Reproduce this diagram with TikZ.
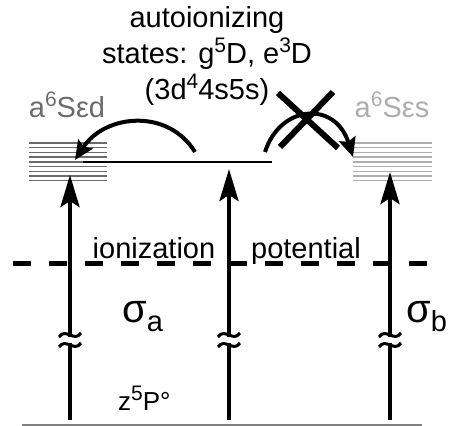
\documentclass[tikz,border=0pt]{standalone}
\usepackage{fontspec}
\setmainfont{Liberation Sans}
\usetikzlibrary{arrows.meta}

\definecolor{darkgrey}{gray}{0.42}
\definecolor{lightgrey}{gray}{0.68}
\newcommand{\sups}[1]{\raisebox{0.36em}{\fontsize{21}{21}\selectfont #1}}
\newcommand{\subs}[1]{\raisebox{-9pt}{\fontsize{29}{29}\selectfont #1}}

\tikzset{
    txt/.style={font=\fontsize{29}{36}\selectfont, inner sep=0pt, align=center},
    bigtxt/.style={font=\fontsize{40}{40}\selectfont, inner sep=0pt},
    uparrow/.style={line width=4pt, -{Stealth[length=32pt, width=19pt, inset=6pt]}},
    curlarrow/.style={line width=4pt, -{Stealth[length=19pt, width=17pt, inset=3pt]}},
}

\begin{document}
\begin{tikzpicture}[x=1pt, y=-1pt]
        \useasboundingbox (0,0) rectangle (451,426);

        % --- 1. Ground level and ionization potential ---
        \draw[gray, line width=1.5pt] (22,425) -- (422,425);
        \draw[line width=5pt, dash pattern=on 18pt off 18pt] (13,263) -- (427,263);
        \node[txt, anchor=base] (ionization) at (154,258) {ionization};
        \node[txt, anchor=base] (potential) at (306,258) {potential};

        % --- 2. Continua (grey bands) ---
        \foreach \i in {0,...,8} {
            \draw[darkgrey, line width=1.4pt] (29,{143+4.7*\i}) -- (107,{143+4.7*\i});
            \draw[lightgrey, line width=1.4pt] (353,{143+4.7*\i}) -- (432,{143+4.7*\i});
        }
        \node[txt, darkgrey, anchor=base] (sed) at (67,117) {a\sups{6}Sεd};
        \node[txt, lightgrey, anchor=base] (ses) at (392,117) {a\sups{6}Sεs};

        % Autoionizing level
        \coordinate (auto west) at (83,162);
        \coordinate (auto east) at (272,162);
        \draw[line width=1.6pt] (auto west) -- (auto east);
        \node[txt, anchor=north] (autostates) at (207,6) {autoionizing\\states: g\sups{5}D, e\sups{3}D\\(3d\sups{4}4s5s)};

        % --- 3. Excitation arrows ---
        \coordinate (a bottom) at (70,420);   \coordinate (a top) at (70,175);
        \coordinate (m bottom) at (229,420);  \coordinate (m top) at (229,169);
        \coordinate (b bottom) at (390,420);  \coordinate (b top) at (390,172);
        \draw[uparrow] (a bottom) -- (a top);
        \draw[uparrow] (m bottom) -- (m top);
        \draw[uparrow] (b bottom) -- (b top);

        % axis breaks
        \foreach \x in {70, 229, 390} {
            \fill[white] (\x-6,337) rectangle (\x+6,343);
            \draw[line width=3pt] (\x-11,337) .. controls (\x-4,327) and (\x+4,343) .. (\x+11,333);
            \draw[line width=3pt] (\x-11,347) .. controls (\x-4,337) and (\x+4,353) .. (\x+11,343);
        }

        \node[bigtxt, anchor=base west] (sigma a) at (122,322) {σ\subs{a}};
        \node[bigtxt, anchor=base west] (sigma b) at (406,322) {σ\subs{b}};
        \node[txt, anchor=base west, font=\fontsize{26}{30}\selectfont] (ground) at (118,410) {z\sups{5}P°};

        % --- 4. Decay channels ---
        \coordinate (decay a) at (195,152);
        \coordinate (decay b) at (265,152);
        \coordinate (cont a) at (75,160);
        \coordinate (cont b) at (353,157);
        \draw[curlarrow] (decay a) .. controls (168,108) and (105,114) .. (cont a);
        \draw[curlarrow] (decay b) .. controls (280,105) and (335,100) .. (cont b);

        % forbidden channel
        \coordinate (cross sw) at (280,147);  \coordinate (cross ne) at (333,92);
        \coordinate (cross nw) at (278,93);   \coordinate (cross se) at (338,148);
        \draw[line width=6pt] (cross sw) -- (cross ne);
        \draw[line width=6pt] (cross nw) -- (cross se);

\end{tikzpicture}
\end{document}
